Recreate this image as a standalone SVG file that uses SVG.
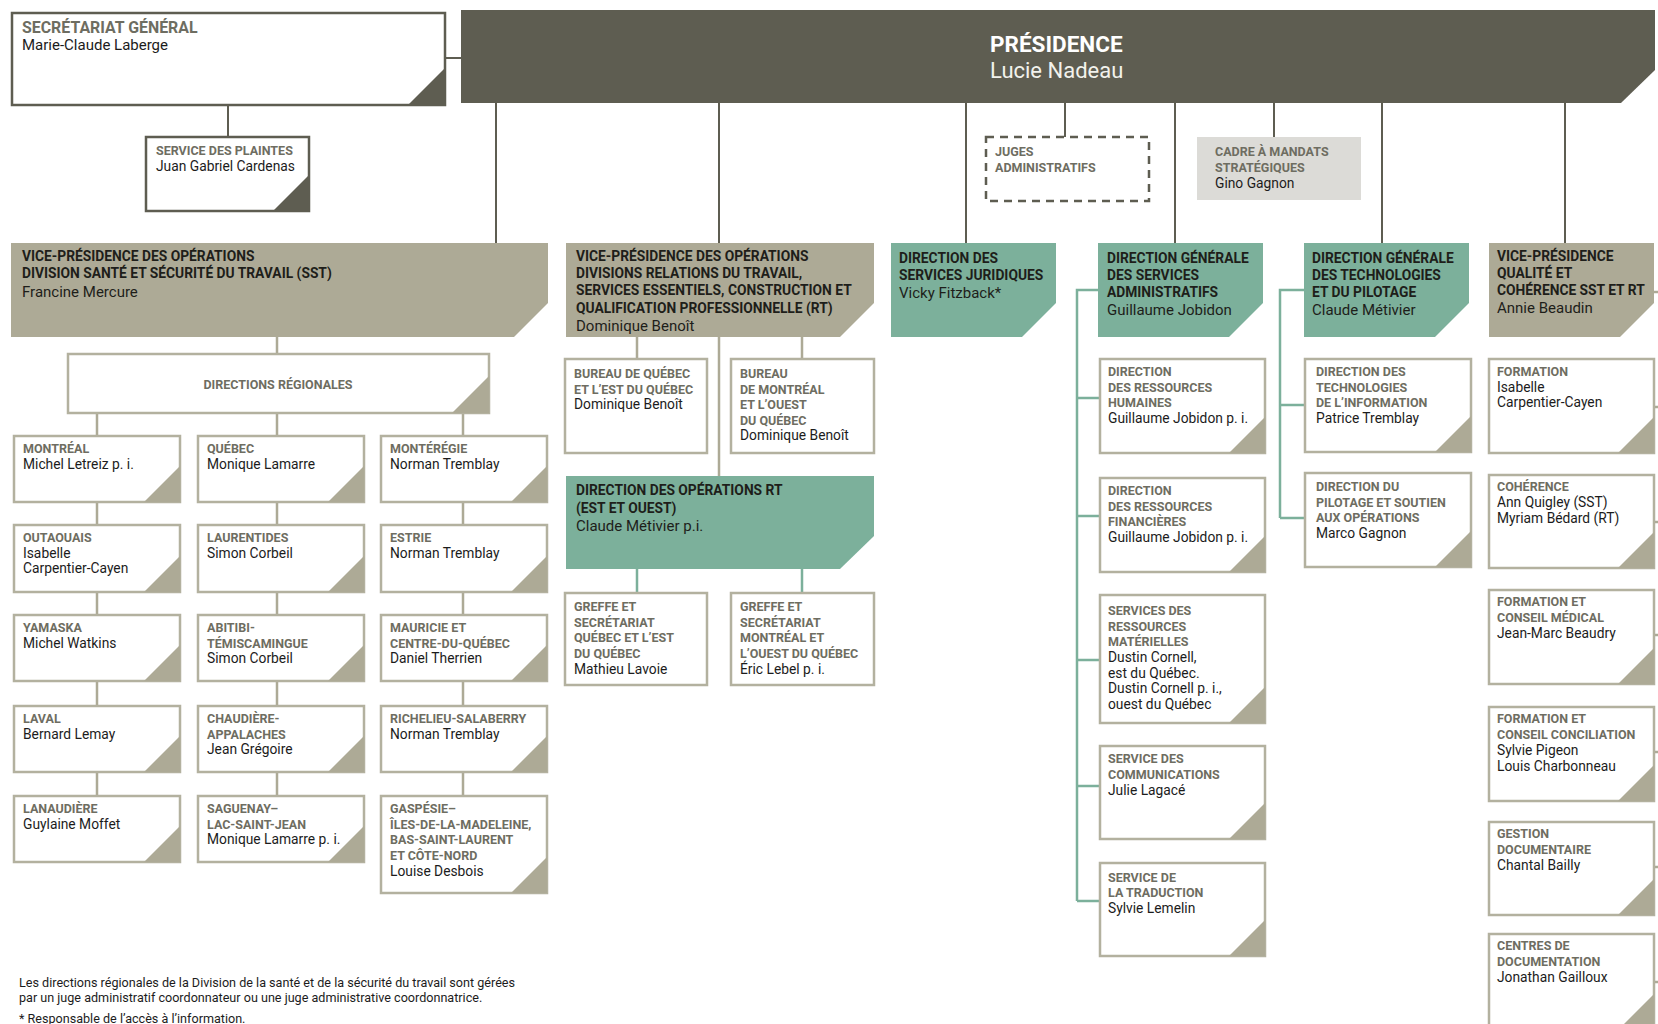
<svg xmlns="http://www.w3.org/2000/svg" width="1658" height="1024" viewBox="0 0 1658 1024">
<style>
text{font-family:Roboto,"Liberation Sans",sans-serif}
.t{font-size:12.5px;font-weight:bold;fill:#6e6d61}
.n{font-size:13.8px;fill:#1c1c1c}
.lt{font-size:13.8px;font-weight:bold;fill:#1e1e1a}
.ln{font-size:15px;fill:#1e1e1a}
.bx{fill:#fff;stroke:#b3b19f;stroke-width:2.5}
.bxd{fill:#fff;stroke:#5e5d51;stroke-width:2.5}
.tri{fill:#adaa96}
.trid{fill:#5e5d51}
.kh{fill:#adaa96}
.tl{fill:#7cb09b}
.cd{stroke:#5e5d51;stroke-width:2;fill:none}
.ck{stroke:#adaa96;stroke-width:2.5;fill:none}
.ct{stroke:#7cb09b;stroke-width:2.5;fill:none}
.fn{font-size:12.6px;fill:#1c1c1c}
</style>
<rect width="1658" height="1024" fill="#fff"/>

<g id="connectors">
<path class="cd" d="M446 58H461M228 106V136M496 103V243M719 103V243M966 103V243M1065 103V137M1175 103V243M1274 103V137M1382 103V243M1565 103V243"/>
<path class="ck" d="M277 337V354M97 413V436M277 413V436M463 413V436M97 502V525M277 502V525M463 502V525M97 592V615M277 592V615M463 592V615M97 681V706M277 681V706M463 681V706M97 772V796M277 772V796M463 772V796"/>
<path class="ck" d="M637 337V359M802 337V359M719 337V476"/>
<path class="ck" d="M1654 292H1658M1654 407H1658M1654 522H1658M1654 635H1658M1654 752H1658M1654 867H1658M1654 982H1658"/>
<path class="ct" d="M637 569V593M802 569V593"/>
<path class="ct" d="M1098 290H1077V901M1077 398H1100M1077 516H1100M1077 660H1100M1077 786H1100M1077 901H1100"/>
<path class="ct" d="M1304 290H1280V518M1280 405H1305M1280 518H1305"/>
</g>

<g id="secretariat">
<rect class="bxd" x="12" y="13" width="433" height="92"/>
<polygon class="trid" points="408,105 445,105 445,68"/>
<text x="22" y="33" style="font-size:15.9px;font-weight:bold;fill:#6e6d61">SECRÉTARIAT GÉNÉRAL</text>
<text x="22" y="50" style="font-size:15px;fill:#1c1c1c">Marie-Claude Laberge</text>
</g>

<g id="plaintes">
<rect class="bxd" x="146" y="137" width="163" height="74"/>
<polygon class="trid" points="273,211 309,211 309,175"/>
<text class="t" x="156" y="155">SERVICE DES PLAINTES</text>
<text class="n" x="156" y="171">Juan Gabriel Cardenas</text>
</g>

<g id="presidence">
<polygon points="461,10 1655,10 1655,70 1621,103 461,103" fill="#5e5d51"/>
<text x="990" y="52" style="font-size:22.5px;font-weight:bold;fill:#fff">PRÉSIDENCE</text>
<text x="990" y="78" style="font-size:22px;fill:#f2f2ec">Lucie Nadeau</text>
</g>

<g id="juges">
<rect x="986" y="137" width="163" height="64" fill="#fff" stroke="#5e5d51" stroke-width="2.5" stroke-dasharray="8 6"/>
<text class="t" x="995" y="156">JUGES</text>
<text class="t" x="995" y="172">ADMINISTRATIFS</text>
</g>

<g id="cadre">
<rect x="1197" y="137" width="164" height="63" fill="#dcdbd7"/>
<text class="t" x="1215" y="156">CADRE À MANDATS</text>
<text class="t" x="1215" y="172">STRATÉGIQUES</text>
<text class="n" x="1215" y="188">Gino Gagnon</text>
</g>

<g id="vp-sst">
<polygon class="kh" points="11,243 548,243 548,303 514,337 11,337"/>
<text class="lt" x="22" y="261">VICE-PRÉSIDENCE DES OPÉRATIONS</text>
<text class="lt" x="22" y="278">DIVISION SANTÉ ET SÉCURITÉ DU TRAVAIL (SST)</text>
<text class="ln" x="22" y="296.5">Francine Mercure</text>
</g>

<g id="vp-rt">
<polygon class="kh" points="566,243 874,243 874,303 840,337 566,337"/>
<text class="lt" x="576" y="261">VICE-PRÉSIDENCE DES OPÉRATIONS</text>
<text class="lt" x="576" y="278">DIVISIONS RELATIONS DU TRAVAIL,</text>
<text class="lt" x="576" y="295">SERVICES ESSENTIELS, CONSTRUCTION ET</text>
<text class="lt" x="576" y="312.5">QUALIFICATION PROFESSIONNELLE (RT)</text>
<text class="ln" x="576" y="330.5">Dominique Benoît</text>
</g>

<g id="juridiques">
<polygon class="tl" points="891,243 1056,243 1056,303 1022,337 891,337"/>
<text class="lt" x="899" y="263">DIRECTION DES</text>
<text class="lt" x="899" y="280">SERVICES JURIDIQUES</text>
<text class="ln" x="899" y="298">Vicky Fitzback*</text>
</g>

<g id="dg-admin">
<polygon class="tl" points="1098,243 1263,243 1263,303 1229,337 1098,337"/>
<text class="lt" x="1107" y="263">DIRECTION GÉNÉRALE</text>
<text class="lt" x="1107" y="280">DES SERVICES</text>
<text class="lt" x="1107" y="297">ADMINISTRATIFS</text>
<text class="ln" x="1107" y="315">Guillaume Jobidon</text>
</g>

<g id="dg-tech">
<polygon class="tl" points="1304,243 1469,243 1469,303 1435,337 1304,337"/>
<text class="lt" x="1312" y="263">DIRECTION GÉNÉRALE</text>
<text class="lt" x="1312" y="280">DES TECHNOLOGIES</text>
<text class="lt" x="1312" y="297">ET DU PILOTAGE</text>
<text class="ln" x="1312" y="315">Claude Métivier</text>
</g>

<g id="vp-qualite">
<polygon class="kh" points="1489,243 1654,243 1654,303 1620,337 1489,337"/>
<text class="lt" x="1497" y="261">VICE-PRÉSIDENCE</text>
<text class="lt" x="1497" y="278">QUALITÉ ET</text>
<text class="lt" x="1497" y="295">COHÉRENCE SST ET RT</text>
<text class="ln" x="1497" y="313">Annie Beaudin</text>
</g>

<g id="directions-regionales">
<rect class="bx" x="68" y="354" width="421" height="59"/>
<polygon class="tri" points="452,413 489,413 489,376"/>
<text class="t" x="278" y="389" text-anchor="middle">DIRECTIONS RÉGIONALES</text>
</g>

<g id="montreal"><rect class="bx" x="14" y="436" width="166" height="66"/><polygon class="tri" points="144,502 180,502 180,466"/>
<text class="t" x="23" y="453">MONTRÉAL</text><text class="n" x="23" y="469">Michel Letreiz p. i.</text></g>
<g id="quebec"><rect class="bx" x="198" y="436" width="166" height="66"/><polygon class="tri" points="328,502 364,502 364,466"/>
<text class="t" x="207" y="453">QUÉBEC</text><text class="n" x="207" y="469">Monique Lamarre</text></g>
<g id="monteregie"><rect class="bx" x="381" y="436" width="166" height="66"/><polygon class="tri" points="511,502 547,502 547,466"/>
<text class="t" x="390" y="453">MONTÉRÉGIE</text><text class="n" x="390" y="469">Norman Tremblay</text></g>

<g id="outaouais"><rect class="bx" x="14" y="525" width="166" height="67"/><polygon class="tri" points="144,592 180,592 180,556"/>
<text class="t" x="23" y="542">OUTAOUAIS</text><text class="n" x="23" y="557.7">Isabelle</text><text class="n" x="23" y="573.4">Carpentier-Cayen</text></g>
<g id="laurentides"><rect class="bx" x="198" y="525" width="166" height="67"/><polygon class="tri" points="328,592 364,592 364,556"/>
<text class="t" x="207" y="542">LAURENTIDES</text><text class="n" x="207" y="557.7">Simon Corbeil</text></g>
<g id="estrie"><rect class="bx" x="381" y="525" width="166" height="67"/><polygon class="tri" points="511,592 547,592 547,556"/>
<text class="t" x="390" y="542">ESTRIE</text><text class="n" x="390" y="557.7">Norman Tremblay</text></g>

<g id="yamaska"><rect class="bx" x="14" y="615" width="166" height="66"/><polygon class="tri" points="144,681 180,681 180,645"/>
<text class="t" x="23" y="632">YAMASKA</text><text class="n" x="23" y="647.7">Michel Watkins</text></g>
<g id="abitibi"><rect class="bx" x="198" y="615" width="166" height="66"/><polygon class="tri" points="328,681 364,681 364,645"/>
<text class="t" x="207" y="632">ABITIBI-</text><text class="t" x="207" y="647.7">TÉMISCAMINGUE</text><text class="n" x="207" y="663.4">Simon Corbeil</text></g>
<g id="mauricie"><rect class="bx" x="381" y="615" width="166" height="66"/><polygon class="tri" points="511,681 547,681 547,645"/>
<text class="t" x="390" y="632">MAURICIE ET</text><text class="t" x="390" y="647.7">CENTRE-DU-QUÉBEC</text><text class="n" x="390" y="663.4">Daniel Therrien</text></g>

<g id="laval"><rect class="bx" x="14" y="706" width="166" height="66"/><polygon class="tri" points="144,772 180,772 180,736"/>
<text class="t" x="23" y="723">LAVAL</text><text class="n" x="23" y="738.7">Bernard Lemay</text></g>
<g id="chaudiere"><rect class="bx" x="198" y="706" width="166" height="66"/><polygon class="tri" points="328,772 364,772 364,736"/>
<text class="t" x="207" y="723">CHAUDIÈRE-</text><text class="t" x="207" y="738.7">APPALACHES</text><text class="n" x="207" y="754.4">Jean Grégoire</text></g>
<g id="richelieu"><rect class="bx" x="381" y="706" width="166" height="66"/><polygon class="tri" points="511,772 547,772 547,736"/>
<text class="t" x="390" y="723">RICHELIEU-SALABERRY</text><text class="n" x="390" y="738.7">Norman Tremblay</text></g>

<g id="lanaudiere"><rect class="bx" x="14" y="796" width="166" height="66"/><polygon class="tri" points="144,862 180,862 180,826"/>
<text class="t" x="23" y="813">LANAUDIÈRE</text><text class="n" x="23" y="828.7">Guylaine Moffet</text></g>
<g id="saguenay"><rect class="bx" x="198" y="796" width="166" height="66"/><polygon class="tri" points="328,862 364,862 364,826"/>
<text class="t" x="207" y="813">SAGUENAY–</text><text class="t" x="207" y="828.7">LAC-SAINT-JEAN</text><text class="n" x="207" y="844.4">Monique Lamarre p. i.</text></g>
<g id="gaspesie"><rect class="bx" x="381" y="796" width="166" height="97"/><polygon class="tri" points="511,893 547,893 547,857"/>
<text class="t" x="390" y="813">GASPÉSIE–</text><text class="t" x="390" y="828.7">ÎLES-DE-LA-MADELEINE,</text><text class="t" x="390" y="844.4">BAS-SAINT-LAURENT</text><text class="t" x="390" y="860.1">ET CÔTE-NORD</text><text class="n" x="390" y="875.8">Louise Desbois</text></g>

<g id="bureau-quebec"><rect class="bx" x="565" y="359" width="142" height="94"/>
<text class="t" x="574" y="378">BUREAU DE QUÉBEC</text><text class="t" x="574" y="393.6">ET L’EST DU QUÉBEC</text><text class="n" x="574" y="409.3">Dominique Benoît</text></g>
<g id="bureau-montreal"><rect class="bx" x="731" y="359" width="143" height="94"/>
<text class="t" x="740" y="378">BUREAU</text><text class="t" x="740" y="393.6">DE MONTRÉAL</text><text class="t" x="740" y="409.2">ET L’OUEST</text><text class="t" x="740" y="424.8">DU QUÉBEC</text><text class="n" x="740" y="440.4">Dominique Benoît</text></g>

<g id="operations-rt">
<polygon class="tl" points="566,476 874,476 874,536 840,569 566,569"/>
<text class="lt" x="576" y="495">DIRECTION DES OPÉRATIONS RT</text>
<text class="lt" x="576" y="512.5">(EST ET OUEST)</text>
<text class="ln" x="576" y="530.5">Claude Métivier p.i.</text>
</g>

<g id="greffe-quebec"><rect class="bx" x="565" y="593" width="142" height="92"/>
<text class="t" x="574" y="611">GREFFE ET</text><text class="t" x="574" y="626.7">SECRÉTARIAT</text><text class="t" x="574" y="642.4">QUÉBEC ET L’EST</text><text class="t" x="574" y="658">DU QUÉBEC</text><text class="n" x="574" y="673.7">Mathieu Lavoie</text></g>
<g id="greffe-montreal"><rect class="bx" x="731" y="593" width="143" height="92"/>
<text class="t" x="740" y="611">GREFFE ET</text><text class="t" x="740" y="626.7">SECRÉTARIAT</text><text class="t" x="740" y="642.4">MONTRÉAL ET</text><text class="t" x="740" y="658">L’OUEST DU QUÉBEC</text><text class="n" x="740" y="673.7">Éric Lebel p. i.</text></g>

<g id="drh"><rect class="bx" x="1100" y="359" width="165" height="94"/><polygon class="tri" points="1229,453 1265,453 1265,417"/>
<text class="t" x="1108" y="376">DIRECTION</text><text class="t" x="1108" y="391.7">DES RESSOURCES</text><text class="t" x="1108" y="407.4">HUMAINES</text><text class="n" x="1108" y="423">Guillaume Jobidon p. i.</text></g>
<g id="drf"><rect class="bx" x="1100" y="478" width="165" height="94"/><polygon class="tri" points="1229,572 1265,572 1265,536"/>
<text class="t" x="1108" y="495">DIRECTION</text><text class="t" x="1108" y="510.7">DES RESSOURCES</text><text class="t" x="1108" y="526.4">FINANCIÈRES</text><text class="n" x="1108" y="542">Guillaume Jobidon p. i.</text></g>
<g id="srm"><rect class="bx" x="1100" y="595" width="165" height="128"/><polygon class="tri" points="1229,723 1265,723 1265,687"/>
<text class="t" x="1108" y="615">SERVICES DES</text><text class="t" x="1108" y="630.7">RESSOURCES</text><text class="t" x="1108" y="646.4">MATÉRIELLES</text><text class="n" x="1108" y="662">Dustin Cornell,</text><text class="n" x="1108" y="677.7">est du Québec.</text><text class="n" x="1108" y="693.4">Dustin Cornell p. i.,</text><text class="n" x="1108" y="709">ouest du Québec</text></g>
<g id="communications"><rect class="bx" x="1100" y="746" width="165" height="93"/><polygon class="tri" points="1229,839 1265,839 1265,803"/>
<text class="t" x="1108" y="763.3">SERVICE DES</text><text class="t" x="1108" y="779">COMMUNICATIONS</text><text class="n" x="1108" y="795">Julie Lagacé</text></g>
<g id="traduction"><rect class="bx" x="1100" y="863" width="165" height="93"/><polygon class="tri" points="1229,956 1265,956 1265,920"/>
<text class="t" x="1108" y="881.7">SERVICE DE</text><text class="t" x="1108" y="897.4">LA TRADUCTION</text><text class="n" x="1108" y="913">Sylvie Lemelin</text></g>

<g id="dti"><rect class="bx" x="1305" y="359" width="166" height="93"/><polygon class="tri" points="1435,452 1471,452 1471,416"/>
<text class="t" x="1316" y="376">DIRECTION DES</text><text class="t" x="1316" y="391.7">TECHNOLOGIES</text><text class="t" x="1316" y="407.4">DE L’INFORMATION</text><text class="n" x="1316" y="423">Patrice Tremblay</text></g>
<g id="dpso"><rect class="bx" x="1305" y="473" width="166" height="94"/><polygon class="tri" points="1435,567 1471,567 1471,531"/>
<text class="t" x="1316" y="491">DIRECTION DU</text><text class="t" x="1316" y="506.7">PILOTAGE ET SOUTIEN</text><text class="t" x="1316" y="522.4">AUX OPÉRATIONS</text><text class="n" x="1316" y="538">Marco Gagnon</text></g>

<g id="formation"><rect class="bx" x="1489" y="359" width="165" height="94"/><polygon class="tri" points="1618,453 1654,453 1654,417"/>
<text class="t" x="1497" y="376">FORMATION</text><text class="n" x="1497" y="391.7">Isabelle</text><text class="n" x="1497" y="407.4">Carpentier-Cayen</text></g>
<g id="coherence"><rect class="bx" x="1489" y="475" width="165" height="93"/><polygon class="tri" points="1618,568 1654,568 1654,532"/>
<text class="t" x="1497" y="491">COHÉRENCE</text><text class="n" x="1497" y="507">Ann Quigley (SST)</text><text class="n" x="1497" y="523">Myriam Bédard (RT)</text></g>
<g id="conseil-medical"><rect class="bx" x="1489" y="590" width="165" height="94"/><polygon class="tri" points="1618,684 1654,684 1654,648"/>
<text class="t" x="1497" y="606">FORMATION ET</text><text class="t" x="1497" y="622">CONSEIL MÉDICAL</text><text class="n" x="1497" y="638">Jean-Marc Beaudry</text></g>
<g id="conseil-conciliation"><rect class="bx" x="1489" y="707" width="165" height="94"/><polygon class="tri" points="1618,801 1654,801 1654,765"/>
<text class="t" x="1497" y="723">FORMATION ET</text><text class="t" x="1497" y="739">CONSEIL CONCILIATION</text><text class="n" x="1497" y="755">Sylvie Pigeon</text><text class="n" x="1497" y="771">Louis Charbonneau</text></g>
<g id="gestion-documentaire"><rect class="bx" x="1489" y="822" width="165" height="93"/><polygon class="tri" points="1618,915 1654,915 1654,879"/>
<text class="t" x="1497" y="838">GESTION</text><text class="t" x="1497" y="854">DOCUMENTAIRE</text><text class="n" x="1497" y="870">Chantal Bailly</text></g>
<g id="centres-documentation"><rect class="bx" x="1489" y="934" width="165" height="96"/><polygon class="tri" points="1618,1030 1654,1030 1654,994"/>
<text class="t" x="1497" y="950">CENTRES DE</text><text class="t" x="1497" y="966">DOCUMENTATION</text><text class="n" x="1497" y="982">Jonathan Gailloux</text></g>

<g id="notes">
<text class="fn" x="19" y="987">Les directions régionales de la Division de la santé et de la sécurité du travail sont gérées</text>
<text class="fn" x="19" y="1001.5">par un juge administratif coordonnateur ou une juge administrative coordonnatrice.</text>
<text class="fn" x="19" y="1023">* Responsable de l’accès à l’information.</text>
</g>
</svg>
